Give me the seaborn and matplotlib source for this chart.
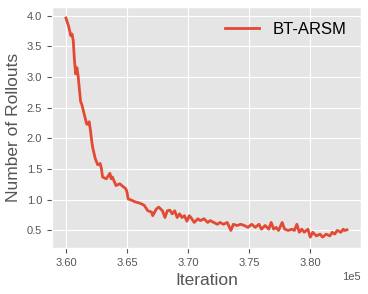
import pandas as pd
import seaborn as sns
import matplotlib.pyplot as plt

# values
iterations = [360000, 360200, 360400, 360500, 360600, 360700, 360800, 360900, 361000, 361200,
              361300, 361500, 361700, 361800, 361900, 362000, 362100, 362200, 362400, 362600,
              362800, 362900, 363000, 363300, 363600, 363700, 363800, 364100, 364400, 364700,
              364900, 365000, 365100, 365300, 365600, 366100, 366400, 366700, 367000, 367100,
              367400, 367600, 367900, 368100, 368300, 368500, 368700, 368900, 369100, 369300,
              369500, 369700, 369900, 370100, 370300, 370500, 370800, 371000, 371300, 371600,
              371800, 372100, 372400, 372600, 372900, 373200, 373500, 373700, 374000, 374300,
              374600, 374900, 375200, 375500, 375800, 376000, 376300, 376600, 376800, 377000,
              377200, 377400, 377700, 377900, 378200, 378500, 378700, 378900, 379100, 379300,
              379500, 379800, 380000, 380200, 380500, 380800, 381000, 381300, 381600, 381800,
              382000, 382200, 382500, 382700, 382800, 383000]
rollouts = [3.96, 3.84, 3.67, 3.70, 3.59, 3.26, 3.05, 3.15, 3.01, 2.60,
            2.55, 2.39, 2.23, 2.23, 2.27, 2.14, 1.97, 1.84, 1.67, 1.57,
            1.59, 1.51, 1.37, 1.34, 1.43, 1.34, 1.37, 1.23, 1.26, 1.21,
            1.18, 1.12, 1.01, 1.00, 0.97, 0.94, 0.91, 0.82, 0.80, 0.74,
            0.85, 0.88, 0.82, 0.71, 0.82, 0.83, 0.77, 0.82, 0.71, 0.77,
            0.71, 0.74, 0.65, 0.74, 0.69, 0.63, 0.69, 0.66, 0.69, 0.63,
            0.66, 0.63, 0.60, 0.63, 0.60, 0.63, 0.50, 0.60, 0.58, 0.60,
            0.58, 0.55, 0.60, 0.55, 0.60, 0.52, 0.58, 0.52, 0.63, 0.52,
            0.55, 0.50, 0.63, 0.52, 0.50, 0.52, 0.50, 0.60, 0.47, 0.52,
            0.47, 0.52, 0.39, 0.47, 0.41, 0.44, 0.39, 0.44, 0.41, 0.47,
            0.44, 0.50, 0.47, 0.52, 0.50, 0.51]

df = pd.DataFrame({"Iteration": iterations, "Rollouts": rollouts})

plt.style.use("ggplot")
plt.rcParams["font.family"] = ["Liberation Sans", "DejaVu Sans"]

fig = plt.figure(figsize=(3.68, 2.94), dpi=100)
ax = fig.add_axes([0.141, 0.156, 0.84, 0.82])

sns.lineplot(data=df, x="Iteration", y="Rollouts", color="#E24A33",
             linewidth=2, label="BT-ARSM", ax=ax)

ax.set_xlabel("Iteration", fontsize=12.5, color="#555555")
ax.set_ylabel("Number of Rollouts", fontsize=12.5, color="#555555")
ax.tick_params(labelsize=8, colors="#555555")
ax.ticklabel_format(axis="x", style="sci", scilimits=(0, 0))
ax.xaxis.get_offset_text().set_fontsize(8)
ax.legend(loc="upper right", frameon=False, fontsize=12)

plt.savefig("out.png", dpi=100)
plt.close()
